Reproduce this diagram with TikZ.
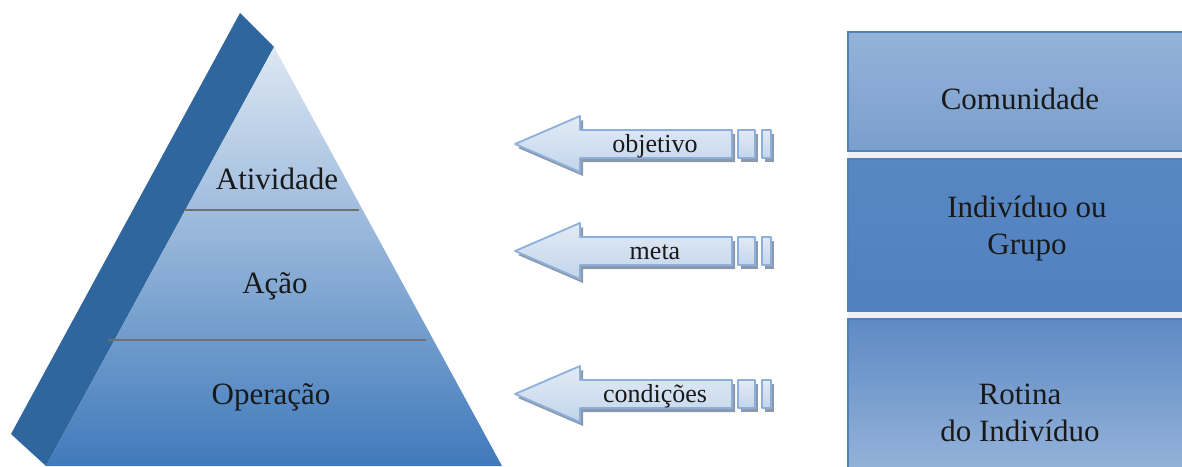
\documentclass[tikz,border=0pt]{standalone}
\usepackage{fontspec}
\setmainfont{Liberation Serif}
\usepackage{tikz}

\definecolor{stripblue}{HTML}{30669E}
\definecolor{pyrtop}{HTML}{DDE7F3}
\definecolor{pyrmid}{HTML}{A9BEDD}
\definecolor{pyrbot}{HTML}{407ABB}
\definecolor{linegray}{HTML}{707070}
\definecolor{boxedge}{HTML}{4F81BD}
\definecolor{arrowedge}{HTML}{8DB0DB}
\definecolor{arrowtop}{HTML}{E2EBF6}
\definecolor{arrowbot}{HTML}{C3D5EB}
\definecolor{shadowgray}{HTML}{8C99AC}
\definecolor{gapgray}{HTML}{EFF1F5}

\tikzset{
    bigtext/.style={font=\fontsize{31}{37}\selectfont, text=black!90, inner sep=0pt},
    arrowtext/.style={font=\fontsize{26}{30}\selectfont, text=black!90, inner sep=0pt, anchor=base},
    arrowfill/.style={top color=arrowtop, bottom color=arrowbot, draw=arrowedge, line width=1.8pt, line join=round},
    boxline/.style={draw=boxedge, line width=1.5pt}
}

\begin{document}
\begin{tikzpicture}[x=1pt, y=-1pt]
    \useasboundingbox (0,0) rectangle (1182,466);

    % pyramid
    \fill[stripblue] (240,13) -- (274,47) -- (46,466) -- (11,434) -- cycle;
    \shade[top color=pyrtop, middle color=pyrmid, bottom color=pyrbot] (274,47) -- (502,466) -- (46,466) -- cycle;
    \draw[linegray, line width=1.4pt] (184,210) -- (359,210);
    \draw[linegray, line width=1.4pt] (108,340) -- (426,340);
    \node[bigtext, anchor=base] (ativ) at (277,189) {Atividade};
    \node[bigtext, anchor=base] (acao) at (275,293) {Ação};
    \node[bigtext, anchor=base] (oper) at (271,404) {Operação};

    % arrows
    \foreach \yc/\lbl/\nm in {144/objetivo/obj, 251/meta/meta, 394/condições/cond}{
        \fill[shadowgray] (518,\yc+4) -- (583,\yc-24) -- (583,\yc-10) -- (735,\yc-10) -- (735,\yc+18) -- (583,\yc+18) -- (583,\yc+32) -- cycle;
        \fill[shadowgray] (741,\yc-10) rectangle (758,\yc+18);
        \fill[shadowgray] (765,\yc-10) rectangle (774,\yc+18);
        \shade[arrowfill] (515,\yc) -- (580,\yc-28) -- (580,\yc-14) -- (732,\yc-14) -- (732,\yc+14) -- (580,\yc+14) -- (580,\yc+28) -- cycle;
        \shade[arrowfill] (738,\yc-14) rectangle (755,\yc+14);
        \shade[arrowfill] (762,\yc-14) rectangle (771,\yc+14);
        \node[arrowtext] (\nm) at (655,\yc+8) {\lbl};
    }

    % boxes
    \fill[gapgray] (848,151) rectangle (1183,319);
    \shade[top color={rgb,255:red,148;green,179;blue,217}, bottom color={rgb,255:red,122;green,158;blue,205}, boxline] (848,32) rectangle (1184,151);
    \shade[top color={rgb,255:red,88;green,136;blue,195}, middle color={rgb,255:red,63;green,119;blue,187}, bottom color={rgb,255:red,80;green,129;blue,192}, boxline] (848,159) rectangle (1184,311);
    \shade[top color={rgb,255:red,94;green,138;blue,196}, bottom color={rgb,255:red,147;green,178;blue,217}, boxline] (848,319) rectangle (1184,468);
    \node[bigtext, anchor=base] (comu) at (1020,109) {Comunidade};
    \node[bigtext, align=center] (grupo) at (1027,229) {Indivíduo ou\\Grupo};
    \node[bigtext, align=center] (rotina) at (1020,413) {Rotina\\do Indivíduo};
\end{tikzpicture}
\end{document}
